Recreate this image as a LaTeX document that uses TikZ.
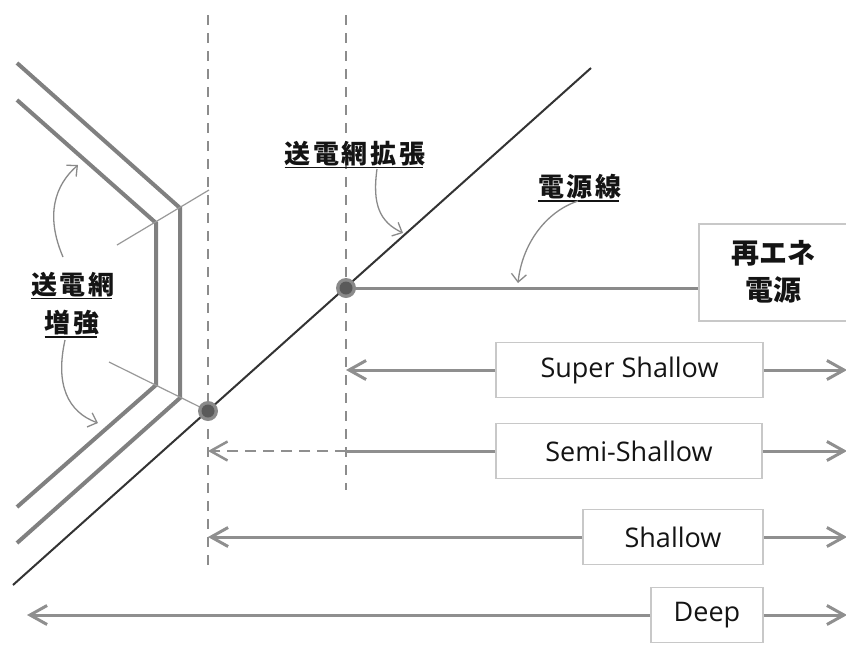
\documentclass[tikz,border=0pt]{standalone}
\usepackage{fontspec}
\setmainfont{Open Sans}
\newfontfamily\jpfont{Noto Sans CJK JP}
\usetikzlibrary{arrows.meta}
\definecolor{shapegray}{HTML}{808080}
\definecolor{darkline}{HTML}{333333}
\definecolor{dashgray}{HTML}{8C8C8C}
\definecolor{thingray}{HTML}{999999}
\definecolor{ink}{HTML}{141414}
\definecolor{boxgray}{HTML}{C8C8C8}
\definecolor{arrowgray}{HTML}{8F8F8F}
\definecolor{notegray}{HTML}{8A8A8A}
\definecolor{dotouter}{HTML}{8A8A8A}
\definecolor{dotinner}{HTML}{5A5A5A}
\begin{document}
\begin{tikzpicture}[x=1pt,y=-1pt,
  thickgray/.style={draw=shapegray, line width=4pt, line join=miter},
  mainline/.style={draw=darkline, line width=2pt},
  dashv/.style={draw=dashgray, line width=2.5pt, dash pattern=on 10pt off 8pt},
  thinline/.style={draw=thingray, line width=1.2pt},
  lbl/.style={font=\jpfont\bfseries\addfontfeature{LetterSpace=10}\fontsize{26}{31}\selectfont, text=ink, inner sep=0pt},
  boxlbl/.style={font=\jpfont\bfseries\fontsize{28}{37}\selectfont, text=ink, inner sep=0pt, align=center},
  dimbox/.style={draw=boxgray, line width=1.5pt, fill=white, minimum height=55pt, inner sep=0pt, text=ink, font=\fontsize{27}{30}\selectfont},
  dimarrow/.style={draw=arrowgray, line width=3pt, -{Straight Barb[length=17pt,width=19pt]}},
  dimline/.style={draw=arrowgray, line width=3pt},
  note/.style={draw=notegray, line width=1.3pt, -{Straight Barb[length=8pt,width=15pt]}},
  uline/.style={draw=ink, line width=1.8pt},
]
\useasboundingbox (0,0) rectangle (846,659);
\fill[white] (0,0) rectangle (846,659);

% grid reinforcement shape (double line)
\coordinate (o1) at (17,63);
\coordinate (o2) at (180,208);
\coordinate (o3) at (180,398);
\coordinate (o4) at (17,543);
\coordinate (i1) at (17,100);
\coordinate (i2) at (156,223);
\coordinate (i3) at (156,385);
\coordinate (i4) at (17,507);
\draw[thickgray] (o1) -- (o2) -- (o3) -- (o4);
\draw[thickgray] (i1) -- (i2) -- (i3) -- (i4);

% thin connectors
\coordinate (t1a) at (117,245);
\coordinate (t1b) at (209,190);
\coordinate (t2a) at (109,362);
\coordinate (t2b) at (208,411);
\draw[thinline] (t1a) -- (t1b);
\draw[thinline] (t2a) -- (t2b);

% dashed verticals
\coordinate (v1t) at (208,15);
\coordinate (v1b) at (208,565);
\coordinate (v2t) at (346,15);
\coordinate (v2b) at (346,490);
\draw[dashv] (v1t) -- (v1b);
\draw[dashv] (v2t) -- (v2b);

% main diagonal
\coordinate (b1) at (591,68);
\coordinate (b2) at (13,585);
\draw[mainline] (b1) -- (b2);

% renewable box and power line
\node[draw=boxgray, line width=1.5pt, fill=white, minimum width=150pt, minimum height=97pt, inner sep=0pt, anchor=north west] (re) at (698,223) {};
\node[boxlbl] (retext) at (773,272) {再エネ\\電源};
\coordinate (d1) at (346,288);
\coordinate (d2) at (208,411);
\draw[draw=notegray, line width=3pt] (d1) -- (d1 -| re.west);

% dots
\foreach \d in {d1,d2}{
  \fill[dotouter] (\d) circle (10pt);
  \fill[dotinner] (\d) circle (6.5pt);
}

% labels
\node[lbl] (lexp) at (355,154) {送電網拡張};
\draw[uline] ([yshift=-1pt]lexp.south west) -- ([xshift=-2.6pt,yshift=-1pt]lexp.south east);
\node[lbl] (lline) at (580,187) {電源線};
\draw[uline] ([yshift=-1pt]lline.south west) -- ([xshift=-2.6pt,yshift=-1pt]lline.south east);
\node[lbl] (lre1) at (73,285) {送電網};
\draw[uline] ([yshift=-1pt]lre1.south west) -- ([xshift=-2.6pt,yshift=-1pt]lre1.south east);
\node[lbl] (lre2) at (72,323) {増強};
\draw[uline] ([yshift=-1pt]lre2.south west) -- ([xshift=-2.6pt,yshift=-1pt]lre2.south east);

% annotation arrows
\coordinate (n1) at (78,165);
\coordinate (n2) at (98,423);
\coordinate (n3) at (403,233);
\coordinate (n4) at (518,283);
\draw[note] (63,257) .. controls (45,215) and (55,185) .. (n1);
\draw[note] (65,340) .. controls (55,385) and (68,412) .. (n2);
\draw[note] (377,169) .. controls (372,205) and (380,222) .. (n3);
\draw[note] (578,201) .. controls (545,212) and (522,245) .. (n4);

% dimension rows
\node[dimbox, minimum width=267pt] (ss) at (629.5,370) {Super Shallow};
\node[dimbox, minimum width=266pt] (semi) at (629,451) {Semi-Shallow};
\node[dimbox, minimum width=180pt] (sh) at (673,537) {Shallow};
\node[dimbox, minimum width=112pt] (dp) at (707,615) {Deep};

\coordinate (ssL) at (346,370);
\coordinate (ssR) at (847,370);
\coordinate (semiM) at (346,451);
\coordinate (semiL) at (208,451);
\coordinate (semiR) at (847,451);
\coordinate (shL) at (208,537);
\coordinate (shR) at (847,537);
\coordinate (dpL) at (27,615);
\coordinate (dpR) at (847,615);

\draw[dimarrow] (ss.west) -- (ssL);
\draw[dimarrow] (ss.east) -- (ssR);
\draw[dimline] (semi.west) -- (semiM);
\draw[dimarrow, line width=2.5pt, dash pattern=on 11pt off 7pt] (semiM) -- (semiL);
\draw[dimarrow] (semi.east) -- (semiR);
\draw[dimarrow] (sh.west) -- (shL);
\draw[dimarrow] (sh.east) -- (shR);
\draw[dimarrow] (dp.west) -- (dpL);
\draw[dimarrow] (dp.east) -- (dpR);
\end{tikzpicture}
\end{document}
